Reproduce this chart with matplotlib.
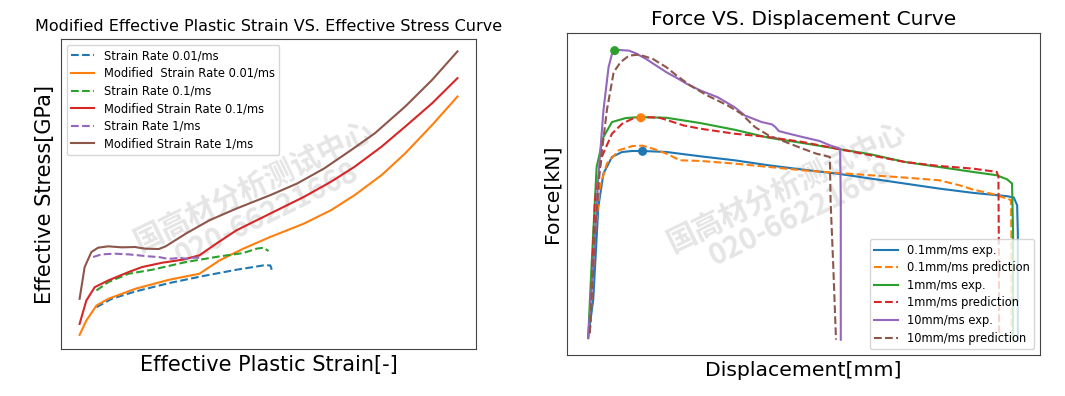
import matplotlib
matplotlib.use("Agg")
import matplotlib.pyplot as plt

# ---- left chart: effective plastic strain vs effective stress ----
sr001_x = [0.105, 0.150, 0.220, 0.320, 0.420, 0.520, 0.600, 0.620, 0.623, 0.625]
sr001_y = [0.125, 0.150, 0.172, 0.197, 0.218, 0.237, 0.250, 0.250, 0.243, 0.230]

mod001_x = [0.055, 0.075, 0.105, 0.140, 0.220, 0.320, 0.410, 0.470, 0.540, 0.620,
            0.720, 0.800, 0.870, 0.950, 1.020, 1.100, 1.175]
mod001_y = [0.042, 0.085, 0.130, 0.150, 0.180, 0.207, 0.225, 0.265, 0.300, 0.335,
            0.375, 0.415, 0.460, 0.520, 0.585, 0.670, 0.755]

sr01_x = [0.105, 0.140, 0.200, 0.270, 0.370, 0.470, 0.540, 0.580, 0.600, 0.615]
sr01_y = [0.175, 0.200, 0.225, 0.237, 0.260, 0.277, 0.287, 0.300, 0.303, 0.293]

mod01_x = [0.055, 0.075, 0.100, 0.140, 0.200, 0.240, 0.300, 0.360, 0.410, 0.460,
           0.520, 0.620, 0.720, 0.800, 0.870, 0.950, 1.020, 1.100, 1.175]
mod01_y = [0.075, 0.145, 0.185, 0.205, 0.230, 0.245, 0.258, 0.267, 0.280, 0.315,
           0.355, 0.405, 0.455, 0.500, 0.545, 0.605, 0.665, 0.735, 0.810]

sr1_x = [0.095, 0.120, 0.160, 0.200, 0.230, 0.260, 0.290, 0.310, 0.330, 0.350,
         0.370, 0.390, 0.410]
sr1_y = [0.275, 0.283, 0.285, 0.283, 0.280, 0.277, 0.275, 0.271, 0.270, 0.273,
         0.270, 0.273, 0.273]

mod1_x = [0.055, 0.070, 0.090, 0.110, 0.140, 0.180, 0.220, 0.230, 0.250, 0.290,
          0.310, 0.370, 0.440, 0.520, 0.620, 0.700, 0.780, 0.860, 0.930, 1.020,
          1.100, 1.175]
mod1_y = [0.150, 0.245, 0.290, 0.303, 0.307, 0.304, 0.305, 0.303, 0.300, 0.299,
          0.307, 0.345, 0.385, 0.420, 0.460, 0.495, 0.540, 0.595, 0.645, 0.725,
          0.805, 0.890]

# ---- right chart: force vs displacement ----
exp01_x = [0.62, 0.77, 0.92, 1.07, 1.32, 1.62, 1.92, 2.22, 2.92, 3.92, 4.92, 5.92,
           6.92, 7.92, 8.92, 9.92, 10.92, 11.92, 12.92, 13.12, 13.22, 13.24, 13.24]
exp01_y = [0.51, 1.66, 4.46, 5.46, 5.96, 6.11, 6.14, 6.14, 6.11, 5.98, 5.86, 5.71,
           5.58, 5.46, 5.31, 5.16, 5.01, 4.88, 4.78, 4.74, 4.51, 3.66, 0.46]

pred01_x = [0.67, 0.82, 0.97, 1.17, 1.52, 1.92, 2.22, 2.52, 2.92, 3.32, 3.92, 4.92,
            5.92, 6.92, 7.92, 8.92, 9.92, 10.92, 11.52, 11.92, 12.52, 12.92, 13.04,
            13.05, 13.06]
pred01_y = [0.66, 3.66, 5.06, 5.76, 6.16, 6.29, 6.30, 6.21, 6.06, 5.86, 5.84, 5.76,
            5.66, 5.56, 5.48, 5.41, 5.34, 5.26, 5.11, 4.98, 4.84, 4.71, 4.66,
            3.66, 0.46]

exp1_x = [0.62, 0.72, 0.87, 1.07, 1.32, 1.72, 2.12, 2.92, 3.92, 4.92, 5.92, 6.92,
          7.92, 8.92, 9.92, 10.92, 11.92, 12.62, 12.92, 13.07, 13.10, 13.10]
exp1_y = [0.51, 2.66, 5.66, 6.56, 7.01, 7.13, 7.16, 7.14, 6.98, 6.78, 6.54, 6.38,
          6.21, 6.04, 5.81, 5.66, 5.51, 5.41, 5.29, 5.16, 3.66, 0.46]

pred1_x = [0.67, 0.82, 1.02, 1.32, 1.62, 1.92, 2.32, 2.72, 3.12, 3.42, 3.92, 4.92,
           5.92, 6.92, 7.92, 8.92, 9.92, 10.92, 11.92, 12.62, 12.67, 12.68, 12.69]
pred1_y = [0.66, 4.66, 5.96, 6.66, 6.96, 7.11, 7.16, 7.14, 7.01, 6.91, 6.81, 6.66,
           6.56, 6.41, 6.21, 6.01, 5.81, 5.69, 5.61, 5.51, 5.36, 3.66, 0.56]

exp10_x = [0.62, 0.77, 0.92, 1.07, 1.22, 1.32, 1.52, 1.82, 2.02, 2.32, 2.62, 2.92,
           3.22, 3.52, 3.92, 4.42, 4.92, 5.22, 5.72, 6.02, 6.12, 6.22, 6.52, 6.92,
           7.42, 7.72, 8.02, 8.04, 8.04]
exp10_y = [0.51, 2.66, 5.36, 7.36, 8.66, 9.06, 9.18, 9.16, 9.08, 8.91, 8.71, 8.51,
           8.34, 8.16, 7.96, 7.76, 7.46, 7.21, 7.01, 6.94, 6.86, 6.74, 6.66, 6.56,
           6.44, 6.31, 6.21, 4.66, 0.46]

pred10_x = [0.67, 0.82, 0.97, 1.17, 1.37, 1.57, 1.82, 2.12, 2.52, 2.92, 3.22, 3.62,
            4.12, 4.72, 5.12, 5.52, 5.92, 6.42, 6.92, 7.32, 7.72, 7.74, 7.82, 7.90]
pred10_y = [0.66, 3.66, 5.66, 7.36, 8.51, 8.81, 9.01, 9.04, 8.91, 8.66, 8.41, 8.11,
            7.81, 7.51, 7.26, 6.86, 6.61, 6.41, 6.21, 6.06, 5.96, 4.66, 2.66, 0.46]

peak_x = [2.22, 2.17, 1.40]
peak_y = [6.13, 7.14, 9.16]
peak_colors = ["#1f77b4", "#ff7f0e", "#2ca02c"]

watermark_cn = "国高材分析测试中心"
watermark_tel = "020-66221668"

fig = plt.figure(figsize=(10.65, 3.96), dpi=100)

ax1 = fig.add_axes([0.0573, 0.1187, 0.3897, 0.7828])
ax1.plot(sr001_x, sr001_y, "--", color="#1f77b4", lw=1.5, label="Strain Rate 0.01/ms")
ax1.plot(mod001_x, mod001_y, "-", color="#ff7f0e", lw=1.5, label="Modified  Strain Rate 0.01/ms")
ax1.plot(sr01_x, sr01_y, "--", color="#2ca02c", lw=1.5, label="Strain Rate 0.1/ms")
ax1.plot(mod01_x, mod01_y, "-", color="#d62728", lw=1.5, label="Modified Strain Rate 0.1/ms")
ax1.plot(sr1_x, sr1_y, "--", color="#9467bd", lw=1.5, label="Strain Rate 1/ms")
ax1.plot(mod1_x, mod1_y, "-", color="#8c564b", lw=1.5, label="Modified Strain Rate 1/ms")
ax1.set_xlim(0, 1.23)
ax1.set_ylim(0, 0.927)
ax1.set_xticks([])
ax1.set_yticks([])
ax1.set_title("Modified Effective Plastic Strain VS. Effective Stress Curve", fontsize=11.5)
ax1.set_xlabel("Effective Plastic Strain[-]", fontsize=15)
ax1.set_ylabel("Effective Stress[GPa]", fontsize=15)
ax1.legend(loc="upper left", fontsize=8.3, labelspacing=0.4)

ax2 = fig.add_axes([0.5324, 0.1035, 0.4441, 0.8131])
ax2.plot(exp01_x, exp01_y, "-", color="#1f77b4", lw=1.5, label="0.1mm/ms exp.")
ax2.plot(pred01_x, pred01_y, "--", color="#ff7f0e", lw=1.5, label="0.1mm/ms prediction")
ax2.plot(exp1_x, exp1_y, "-", color="#2ca02c", lw=1.5, label="1mm/ms exp.")
ax2.plot(pred1_x, pred1_y, "--", color="#d62728", lw=1.5, label="1mm/ms prediction")
ax2.plot(exp10_x, exp10_y, "-", color="#9467bd", lw=1.5, label="10mm/ms exp.")
ax2.plot(pred10_x, pred10_y, "--", color="#8c564b", lw=1.5, label="10mm/ms prediction")
ax2.scatter(peak_x, peak_y, c=peak_colors, s=30, zorder=5)
ax2.set_xlim(0, 13.89)
ax2.set_ylim(0, 9.69)
ax2.set_xticks([])
ax2.set_yticks([])
ax2.set_title("Force VS. Displacement Curve", fontsize=14.5)
ax2.set_xlabel("Displacement[mm]", fontsize=14.7)
ax2.set_ylabel("Force[kN]", fontsize=14.7)
ax2.legend(loc="lower right", fontsize=8.3, labelspacing=0.4)

for ax in (ax1, ax2):
    for s in ax.spines.values():
        s.set_color("#444444")
    ax.text(0.48, 0.48, watermark_cn + "\n" + watermark_tel, transform=ax.transAxes,
            ha="center", va="center", rotation=26, fontsize=21, fontweight="bold",
            color="#d4d4d4", alpha=0.6, family=["Noto Sans CJK SC", "DejaVu Sans"],
            linespacing=1.0, zorder=0)

fig.savefig("out.png", dpi=100)
